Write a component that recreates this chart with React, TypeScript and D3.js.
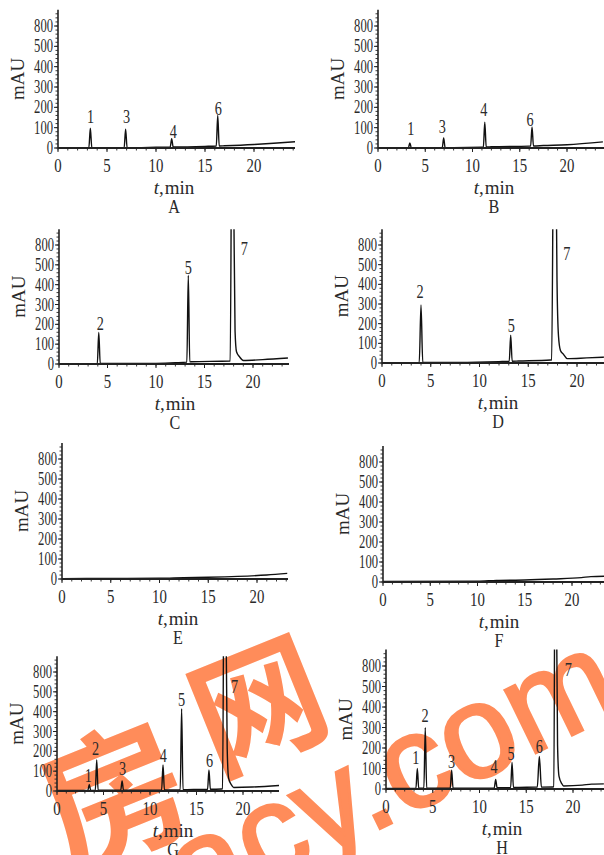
import React from "react";
import * as d3 from "d3";

// ---------- data ----------
const panelLetters = ["A", "B", "C", "D", "E", "F", "G", "H"];
const yTickValues = [0, 100, 200, 300, 400, 500, 600];
const yTickLabels = ["0", "100", "200", "300", "400", "500", "800"];
const xTickValues = [0, 5, 10, 15, 20];

// baselines [t(min), mAU]
const baselineA = [[0, 2], [8, 2], [10, 4], [15, 8], [17, 11], [20, 17], [22, 23], [24.2, 31]];
const baselineB = [[0, 2], [8, 2], [11, 4], [12, 6], [16, 9], [17.5, 12], [20, 16], [23.8, 30]];
const baselineC = [[0, 2], [10, 3], [12, 6], [13.6, 11], [17.6, 15], [19, 18], [21, 22], [23.6, 30]];
const baselineD = [[0, 2], [8, 3], [12, 7], [14, 10], [17.3, 15], [19, 22], [21, 26], [22.8, 30]];
const baselineE = [[0, 2], [5, 3], [10, 4], [12.5, 7], [15, 9], [18, 13], [21, 20], [23.1, 28]];
const baselineF = [[0, 3], [10, 4], [12, 8], [15, 10], [18, 15], [21, 22], [22, 27], [23.4, 29]];
const baselineG = [[0, 3], [10, 4], [14, 7], [17.7, 10], [19, 18], [21, 20], [23.9, 28]];
const baselineH = [[0, 3], [9, 4], [12, 6], [16, 9], [17.8, 10], [19, 15], [21, 19], [22, 24], [23.3, 25]];

// tails of the off-scale peak 7 [dt after apex, mAU above baseline]
const tailC = [[0.15, 900], [0.3, 150], [0.45, 45], [0.75, 20]];
const tailD = [[0.2, 1000], [0.3, 400], [0.45, 120], [0.65, 45], [0.95, 25]];
const tailG = [[0.15, 1000], [0.3, 200], [0.45, 50], [0.75, 15]];
const tailH = [[0.12, 1000], [0.25, 200], [0.4, 50], [0.7, 12]];

// peaks: label n, retention t, height h, label position lt/lv
const peaksA = [
  { n: "1", t: 3.3, h: 95, lt: 3.33, lv: 124 },
  { n: "3", t: 6.9, h: 90, lt: 7.0, lv: 124 },
  { n: "4", t: 11.6, h: 40, lt: 11.77, lv: 48 },
  { n: "6", t: 16.3, h: 150, lt: 16.36, lv: 164 },
];
const peaksB = [
  { n: "1", t: 3.37, h: 23, lt: 3.47, lv: 65 },
  { n: "3", t: 6.95, h: 48, lt: 6.8, lv: 76 },
  { n: "4", t: 11.3, h: 122, lt: 11.2, lv: 155 },
  { n: "6", t: 16.3, h: 94, lt: 16.1, lv: 109 },
];
const peaksC = [
  { n: "2", t: 4.1, h: 157, lt: 4.27, lv: 170 },
  { n: "5", t: 13.33, h: 437, lt: 13.33, lv: 453 },
  { n: "7", t: 17.85, h: 1500, lt: 19.1, lv: 548, wl: 0.2, tail: tailC },
];
const peaksD = [
  { n: "2", t: 4.0, h: 293, lt: 3.9, lv: 332, wl: 0.18, wr: 0.18 },
  { n: "5", t: 13.2, h: 132, lt: 13.27, lv: 157 },
  { n: "7", t: 17.65, h: 1500, lt: 18.95, lv: 523, wl: 0.25, tail: tailD },
];
const peaksE: any[] = [];
const peaksF: any[] = [];
const peaksG = [
  { n: "1", t: 3.47, h: 30, lt: 3.37, lv: 47 },
  { n: "2", t: 4.27, h: 153, lt: 4.15, lv: 182 },
  { n: "3", t: 7.0, h: 47, lt: 7.06, lv: 81 },
  { n: "4", t: 11.4, h: 126, lt: 11.43, lv: 148 },
  { n: "5", t: 13.4, h: 409, lt: 13.4, lv: 429 },
  { n: "6", t: 16.34, h: 97, lt: 16.4, lv: 123 },
  { n: "7", t: 18.0, h: 1500, lt: 19.1, lv: 496, wl: 0.2, tail: tailG },
];
const peaksH = [
  { n: "1", t: 3.35, h: 97, lt: 3.2, lv: 122 },
  { n: "2", t: 4.2, h: 296, lt: 4.17, lv: 328 },
  { n: "3", t: 7.02, h: 88, lt: 7.02, lv: 101 },
  { n: "4", t: 11.73, h: 41, lt: 11.55, lv: 77 },
  { n: "5", t: 13.48, h: 122, lt: 13.37, lv: 141 },
  { n: "6", t: 16.4, h: 150, lt: 16.4, lv: 174, wl: 0.22, wr: 0.22 },
  { n: "7", t: 18.1, h: 1500, lt: 19.5, lv: 551, wl: 0.15, tail: tailH },
];

const baselines = [baselineA, baselineB, baselineC, baselineD, baselineE, baselineF, baselineG, baselineH];
const peakSets = [peaksA, peaksB, peaksC, peaksD, peaksE, peaksF, peaksG, peaksH];

// ---------- layout ----------
const layouts = [
  { x0: 58, x20: 254, xEnd: 295, y0: 148, y600: 26 },
  { x0: 378, x20: 567, xEnd: 606, y0: 148, y600: 26 },
  { x0: 59, x20: 253, xEnd: 289, y0: 364, y600: 245 },
  { x0: 382, x20: 577, xEnd: 606, y0: 363, y600: 245 },
  { x0: 62, x20: 257, xEnd: 288, y0: 579, y600: 459 },
  { x0: 383, x20: 572, xEnd: 606, y0: 582, y600: 462 },
  { x0: 57, x20: 243, xEnd: 279, y0: 791, y600: 672 },
  { x0: 386, x20: 573, xEnd: 606, y0: 789, y600: 666 },
];
const Y_AXIS_MAX = 680;
const FONT = "'Liberation Serif','Times New Roman',serif";
const TXT = "#2a2a2a";

function CText({ x, y, sx = 1, size = 19, anchor = "middle", children, italic = false }: any) {
  return (
    <text
      transform={`translate(${x},${y}) scale(${sx},1)`}
      textAnchor={anchor}
      fontSize={size}
      fontFamily={FONT}
      fontStyle={italic ? "italic" : "normal"}
      fill={TXT}
    >
      {children}
    </text>
  );
}

function Panel({ idx }: { idx: number }) {
  const L = layouts[idx];
  const baseline = baselines[idx];
  const peaks: any[] = peakSets[idx];
  const x = d3.scaleLinear().domain([0, 20]).range([L.x0, L.x20]);
  const tMax = x.invert(L.xEnd);
  const y = d3.scaleLinear().domain([0, 600]).range([L.y0, L.y600]);
  const yTop = y(Y_AXIS_MAX);

  const baseFn = d3
    .scaleLinear()
    .domain(baseline.map((d) => d[0]))
    .range(baseline.map((d) => d[1]))
    .clamp(true);

  const ranges = peaks.map((p) => {
    const wl = p.wl ?? 0.15;
    const wr = p.tail ? p.tail[p.tail.length - 1][0] : p.wr ?? 0.15;
    return [p.t - wl, p.t + wr];
  });
  const pts: [number, number][] = [];
  baseline.forEach(([t]) => {
    if (!ranges.some(([a, b]) => t >= a && t <= b)) pts.push([t, 0]);
  });
  peaks.forEach((p) => {
    const wl = p.wl ?? 0.15;
    const wr = p.wr ?? 0.15;
    pts.push([p.t - wl, 0]);
    pts.push([p.t, p.h]);
    if (p.tail) p.tail.forEach(([dt, v]: number[]) => pts.push([p.t + dt, v]));
    else pts.push([p.t + wr, 0]);
  });
  pts.sort((a, b) => a[0] - b[0]);
  const line = d3
    .line<[number, number]>()
    .curve(d3.curveMonotoneX)
    .x((d) => x(d[0]))
    .y((d) => y(baseFn(d[0]) + d[1]));

  const clipId = `clip${idx}`;
  const minorX = d3.range(0, Math.floor(tMax) + 1);
  const minorY = d3.range(0, Y_AXIS_MAX, 20);
  const cx = L.x0 + 116;

  return (
    <g>
      <defs>
        <clipPath id={clipId}>
          <rect x={L.x0} y={yTop} width={L.xEnd - L.x0} height={L.y0 - yTop + 2} />
        </clipPath>
      </defs>
      {/* trace */}
      <path d={line(pts) || ""} fill="none" stroke="#111" strokeWidth={1.4} clipPath={`url(#${clipId})`} />
      {/* y axis */}
      <line x1={L.x0} x2={L.x0} y1={L.y0} y2={yTop} stroke="#222" strokeWidth={1.6} />
      {minorY.map((v) => (
        <line key={"my" + v} x1={L.x0 - 2.5} x2={L.x0} y1={y(v)} y2={y(v)} stroke="#222" strokeWidth={0.9} />
      ))}
      {yTickValues.map((v, i) => (
        <g key={"yt" + v}>
          <line x1={L.x0 - 4} x2={L.x0} y1={y(v)} y2={y(v)} stroke="#222" strokeWidth={1} />
          <CText x={L.x0 - 5} y={y(v) + 6} sx={0.7} size={18} anchor="end">
            {yTickLabels[i]}
          </CText>
        </g>
      ))}
      {/* x axis */}
      <line x1={L.x0} x2={L.xEnd} y1={L.y0} y2={L.y0} stroke="#222" strokeWidth={1.8} />
      {minorX.map((t) => (
        <line key={"mx" + t} x1={x(t)} x2={x(t)} y1={L.y0} y2={L.y0 + 2.5} stroke="#222" strokeWidth={0.9} />
      ))}
      {xTickValues.map((t) => (
        <g key={"xt" + t}>
          <line x1={x(t)} x2={x(t)} y1={L.y0} y2={L.y0 + 4} stroke="#222" strokeWidth={1} />
          <CText x={x(t)} y={L.y0 + 24} sx={0.78} size={19}>
            {String(t)}
          </CText>
        </g>
      ))}
      {/* peak labels */}
      {peaks.map((p) => (
        <CText key={"pl" + p.n} x={x(p.lt)} y={y(p.lv)} sx={0.75} size={19}>
          {p.n}
        </CText>
      ))}
      {/* axis titles */}
      <text
        transform={`translate(${L.x0 - 34},${(L.y0 + yTop) / 2}) rotate(-90)`}
        textAnchor="middle"
        fontSize={19}
        fontFamily={FONT}
        fill={TXT}
      >
        mAU
      </text>
      <text x={cx} y={L.y0 + 46} textAnchor="middle" fontSize={19} fontFamily={FONT} fill={TXT}>
        <tspan fontStyle="italic">t</tspan>
        <tspan>,</tspan>
        <tspan dx={1}>min</tspan>
      </text>
      <CText x={cx} y={L.y0 + 65} sx={0.85} size={19}>
        {panelLetters[idx]}
      </CText>
    </g>
  );
}

export default function App() {
  const WM = "#FF8C5A";
  return (
    <svg
      width={604}
      height={855}
      style={{ position: "absolute", left: 0, top: 0, display: "block", background: "#fff" }}
    >
      <rect width={604} height={855} fill="#fff" />
      {/* watermark */}
      <g fill={WM}>
        <text
          transform="translate(110,788) rotate(-22)"
          fontSize={145}
          fontWeight={700}
          fontFamily="'Noto Sans CJK SC',sans-serif"
          textAnchor="middle"
          dominantBaseline="central"
        >
          房
        </text>
        <text
          transform="translate(255,697) rotate(-22)"
          fontSize={132}
          fontWeight={700}
          fontFamily="'Noto Sans CJK SC',sans-serif"
          textAnchor="middle"
          dominantBaseline="central"
        >
          网
        </text>
        <text
          transform="translate(410,814) rotate(-26)"
          fontSize={132}
          fontWeight={400}
          fontFamily="'Liberation Sans',Arial,sans-serif"
          textAnchor="middle"
          stroke={WM}
          strokeWidth={3}
        >
          acy.com
        </text>
      </g>
      {layouts.map((_, i) => (
        <Panel key={i} idx={i} />
      ))}
    </svg>
  );
}
